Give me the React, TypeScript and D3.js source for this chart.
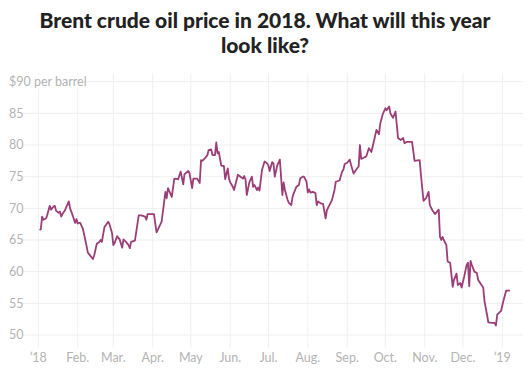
import React from "react";
import * as d3 from "d3";

const titleLines = ["Brent crude oil price in 2018. What will this year", "look like?"];

const dates = [
  "2018-01-02","2018-01-03","2018-01-04","2018-01-05","2018-01-07","2018-01-08","2018-01-10","2018-01-11","2018-01-13","2018-01-14","2018-01-15","2018-01-17","2018-01-18","2018-01-19","2018-01-20","2018-01-22","2018-01-23","2018-01-25","2018-01-26","2018-01-28","2018-01-29","2018-01-30","2018-01-31",
  "2018-02-01","2018-02-02","2018-02-03","2018-02-05","2018-02-07","2018-02-09","2018-02-11","2018-02-13","2018-02-14","2018-02-16","2018-02-18","2018-02-19","2018-02-20","2018-02-22","2018-02-25","2018-02-26","2018-02-28",
  "2018-03-01","2018-03-02","2018-03-04","2018-03-06","2018-03-08","2018-03-09","2018-03-11","2018-03-13","2018-03-14","2018-03-15","2018-03-18","2018-03-21","2018-03-23","2018-03-26","2018-03-27","2018-03-28",
  "2018-04-02","2018-04-04","2018-04-05","2018-04-08","2018-04-11","2018-04-12","2018-04-13","2018-04-16","2018-04-18","2018-04-21","2018-04-23","2018-04-25","2018-04-26","2018-04-29","2018-04-30",
  "2018-05-02","2018-05-03","2018-05-06","2018-05-08","2018-05-09","2018-05-10","2018-05-12","2018-05-14","2018-05-15","2018-05-17","2018-05-18","2018-05-20","2018-05-21","2018-05-22","2018-05-23","2018-05-25","2018-05-27","2018-05-28","2018-05-30","2018-05-31",
  "2018-06-01","2018-06-03","2018-06-04","2018-06-07","2018-06-09","2018-06-11","2018-06-12","2018-06-13","2018-06-14","2018-06-16","2018-06-18","2018-06-19","2018-06-20","2018-06-22","2018-06-23","2018-06-24","2018-06-26","2018-06-28","2018-06-30",
  "2018-07-01","2018-07-02","2018-07-04","2018-07-05","2018-07-06","2018-07-08","2018-07-10","2018-07-12","2018-07-13","2018-07-14","2018-07-16","2018-07-17","2018-07-19","2018-07-20","2018-07-21","2018-07-23","2018-07-25","2018-07-26","2018-07-28","2018-07-29","2018-07-31",
  "2018-08-01","2018-08-02","2018-08-03","2018-08-05","2018-08-07","2018-08-08","2018-08-09","2018-08-11","2018-08-13","2018-08-15","2018-08-16","2018-08-18","2018-08-20","2018-08-22","2018-08-23","2018-08-26","2018-08-28","2018-08-29","2018-08-30",
  "2018-09-01","2018-09-03","2018-09-04","2018-09-06","2018-09-08","2018-09-10","2018-09-11","2018-09-12","2018-09-14","2018-09-16","2018-09-18","2018-09-19","2018-09-20","2018-09-22","2018-09-24","2018-09-26","2018-09-27","2018-09-29",
  "2018-10-01","2018-10-02","2018-10-04","2018-10-05","2018-10-07","2018-10-09","2018-10-10","2018-10-11","2018-10-13","2018-10-15","2018-10-16","2018-10-18","2018-10-22","2018-10-24","2018-10-28","2018-10-29","2018-10-31",
  "2018-11-02","2018-11-04","2018-11-05","2018-11-07","2018-11-09","2018-11-12","2018-11-13","2018-11-14","2018-11-15","2018-11-16","2018-11-18","2018-11-19","2018-11-21","2018-11-23","2018-11-24","2018-11-26","2018-11-27","2018-11-29","2018-11-30",
  "2018-12-02","2018-12-04","2018-12-05","2018-12-06","2018-12-07","2018-12-08","2018-12-10","2018-12-12","2018-12-13","2018-12-15","2018-12-17","2018-12-18","2018-12-20","2018-12-21","2018-12-24","2018-12-26","2018-12-27","2018-12-28","2018-12-29","2018-12-31",
  "2019-01-02","2019-01-04","2019-01-07"
];

const prices = [
  66.6,66.7,68.7,68.2,68.4,68.9,70.4,69.8,70.3,70.4,69.6,69.3,69.5,68.7,69.1,69.7,70.2,71.1,70.0,68.9,68.3,67.7,68.3,
  67.6,67.7,67.7,66.8,65.0,63.0,62.5,62.0,62.6,64.4,64.7,65.0,64.7,67.0,67.9,67.5,66.1,
  64.2,64.5,65.6,65.1,63.8,65.1,64.7,64.2,63.7,64.7,64.9,68.9,68.9,68.7,68.2,69.1,
  69.1,66.2,66.6,67.9,72.6,71.6,73.2,71.8,74.7,74.6,75.8,73.8,75.4,75.9,75.5,
  73.2,74.7,74.7,74.0,77.6,77.5,77.9,78.4,79.2,79.3,78.4,78.4,80.4,78.7,78.9,76.7,76.7,74.6,76.3,74.7,
  74.1,73.4,72.9,75.3,75.0,74.7,75.1,74.6,72.1,74.1,75.0,73.4,73.7,72.9,73.3,72.8,76.1,77.4,77.1,
  76.8,75.9,77.3,77.1,75.0,76.8,77.7,72.1,74.1,72.9,71.4,70.9,70.5,71.8,72.4,73.4,73.7,74.7,75.0,75.0,74.2,
  72.5,73.0,72.5,72.6,72.4,70.5,71.1,70.8,70.7,68.4,69.7,70.5,71.3,72.9,74.2,74.4,75.8,76.1,77.0,
  77.2,77.7,76.9,75.5,76.1,76.6,80.0,77.8,78.0,78.2,79.5,79.2,78.9,80.6,82.4,81.7,83.4,84.9,
  85.8,85.5,86.1,85.0,84.3,85.3,83.2,81.1,80.8,81.1,80.3,80.5,80.5,77.5,77.6,75.3,71.2,
  71.6,72.6,70.5,69.7,69.1,69.8,65.5,65.0,65.5,65.0,64.2,61.6,61.4,57.6,58.7,59.7,57.9,58.2,57.5,
  59.2,61.1,61.4,57.7,61.7,61.1,60.0,59.8,58.7,58.1,57.5,55.3,53.2,52.0,51.9,51.9,51.5,53.2,53.4,53.8,
  55.5,57.0,57.0
];

const xTickDates = ["2018-01-01","2018-02-01","2018-03-01","2018-04-01","2018-05-01","2018-06-01","2018-07-01","2018-08-01","2018-09-01","2018-10-01","2018-11-01","2018-12-01","2019-01-01"];
const xTickLabels = ["\u201918","Feb.","Mar.","Apr.","May","Jun.","Jul.","Aug.","Sep.","Oct.","Nov.","Dec.","\u201919"];
const yTickValues = [50, 55, 60, 65, 70, 75, 80, 85, 90];
const yTickLabels = ["50", "55", "60", "65", "70", "75", "80", "85", "$90 per barrel"];

export default function App() {
  const W = 528, H = 375;
  const parse = d3.timeParse("%Y-%m-%d");
  const x = d3.scaleTime().domain([parse("2018-01-01")!, parse("2019-01-01")!]).range([38.3, 502.3]);
  const y = d3.scaleLinear().domain([50, 90]).range([335, 81.7]);
  const data = dates.map((d, i) => ({ date: parse(d)!, v: prices[i] }));
  const line = d3.line<{ date: Date; v: number }>().x(d => x(d.date)).y(d => y(d.v));
  const font = "Lato, 'Noto Sans', sans-serif";
  const bg = "#ffffff";
  return (
    <svg width={W} height={H} style={{ position: "absolute", left: 0, top: 0, background: bg }}>
      <g fontFamily={font} fontWeight={900} fontSize={21} fill="#222" textAnchor="middle">
        {titleLines.map((t, i) => (
          <text key={i} x={265} y={28 + i * 25}>{t}</text>
        ))}
      </g>
      {xTickDates.map((d, i) => (
        <line key={"vg" + i} x1={x(parse(d)!)} x2={x(parse(d)!)} y1={73} y2={348} stroke="#efefef" strokeWidth={1} />
      ))}
      {yTickValues.map((v, i) => (
        <line key={"hg" + i} x1={8} x2={523} y1={y(v)} y2={y(v)} stroke="#efefef" strokeWidth={1} />
      ))}
      {yTickValues.map((v, i) => {
        const w = yTickLabels[i].length > 3 ? 72 : 16;
        return (
          <g key={"yl" + i}>
            <rect x={7} y={y(v) - 7} width={w} height={14} fill={bg} />
            <text x={9} y={y(v)} dy="0.35em" fontFamily={font} fontSize={12.5} fill="#b3b3b3">{yTickLabels[i]}</text>
          </g>
        );
      })}
      {xTickDates.map((d, i) => (
        <text key={"xl" + i} x={x(parse(d)!)} y={362} textAnchor="middle" fontFamily={font} fontSize={12.5} fill="#b3b3b3">{xTickLabels[i]}</text>
      ))}
      <path d={line(data) || ""} fill="none" stroke="#9b3d77" strokeWidth={1.8} strokeLinejoin="round" />
    </svg>
  );
}
